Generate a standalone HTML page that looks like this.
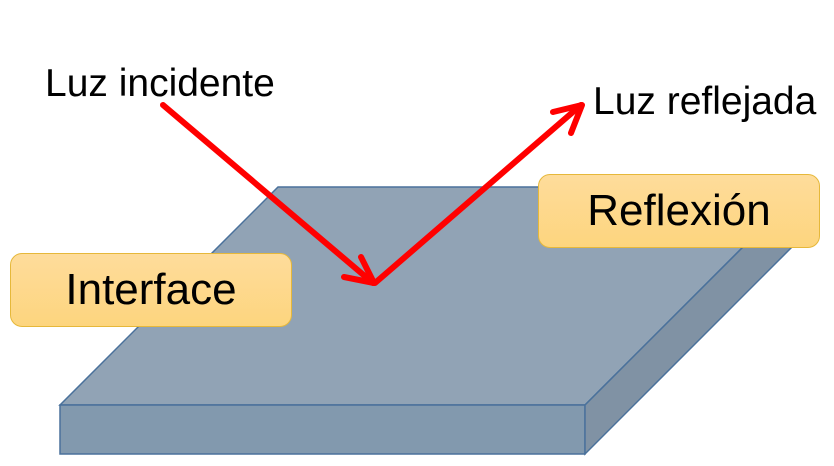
<!DOCTYPE html>
<html><head><meta charset="utf-8"><style>
html,body{margin:0;padding:0;background:#fff;}
body{width:834px;height:466px;overflow:hidden;position:relative;font-family:"Liberation Sans",sans-serif;}
.box{position:absolute;border:1px solid #e6b83a;border-radius:12px;background:linear-gradient(#fedc9b,#fdd57e);display:flex;align-items:center;justify-content:center;font-size:44px;color:#000;box-sizing:border-box;}
.lbl{position:absolute;font-size:39px;color:#000;line-height:1;white-space:nowrap;}
</style></head><body>
<svg width="834" height="466" style="position:absolute;left:0;top:0">
<polygon points="278,187 803,187 585,405 60,405" fill="#91a3b5" stroke="#4a719b" stroke-width="1.5"/>
<polygon points="60,405 585,405 585,454 60,454" fill="#8299ae" stroke="#4a719b" stroke-width="1.5"/>
<polygon points="585,405 803,187 803,236 585,454" fill="#8092a4" stroke="#4a719b" stroke-width="1.5"/>
<g stroke="#ff0000" stroke-width="6" stroke-linecap="round" stroke-linejoin="round" fill="none">
<line x1="163" y1="105" x2="373" y2="283"/>
<polyline points="361,257 374,283 344,277"/>
<line x1="375" y1="283" x2="581" y2="105"/>
<polyline points="553,112 582,105 571,133"/>
</g>
</svg>
<div class="box" style="left:10px;top:253px;width:282px;height:74px;">Interface</div>
<div class="box" style="left:538px;top:174px;width:282px;height:74px;">Reflexión</div>
<div class="lbl" style="left:45px;top:64px;">Luz incidente</div>
<div class="lbl" style="left:593px;top:82px;">Luz reflejada</div>
</body></html>
